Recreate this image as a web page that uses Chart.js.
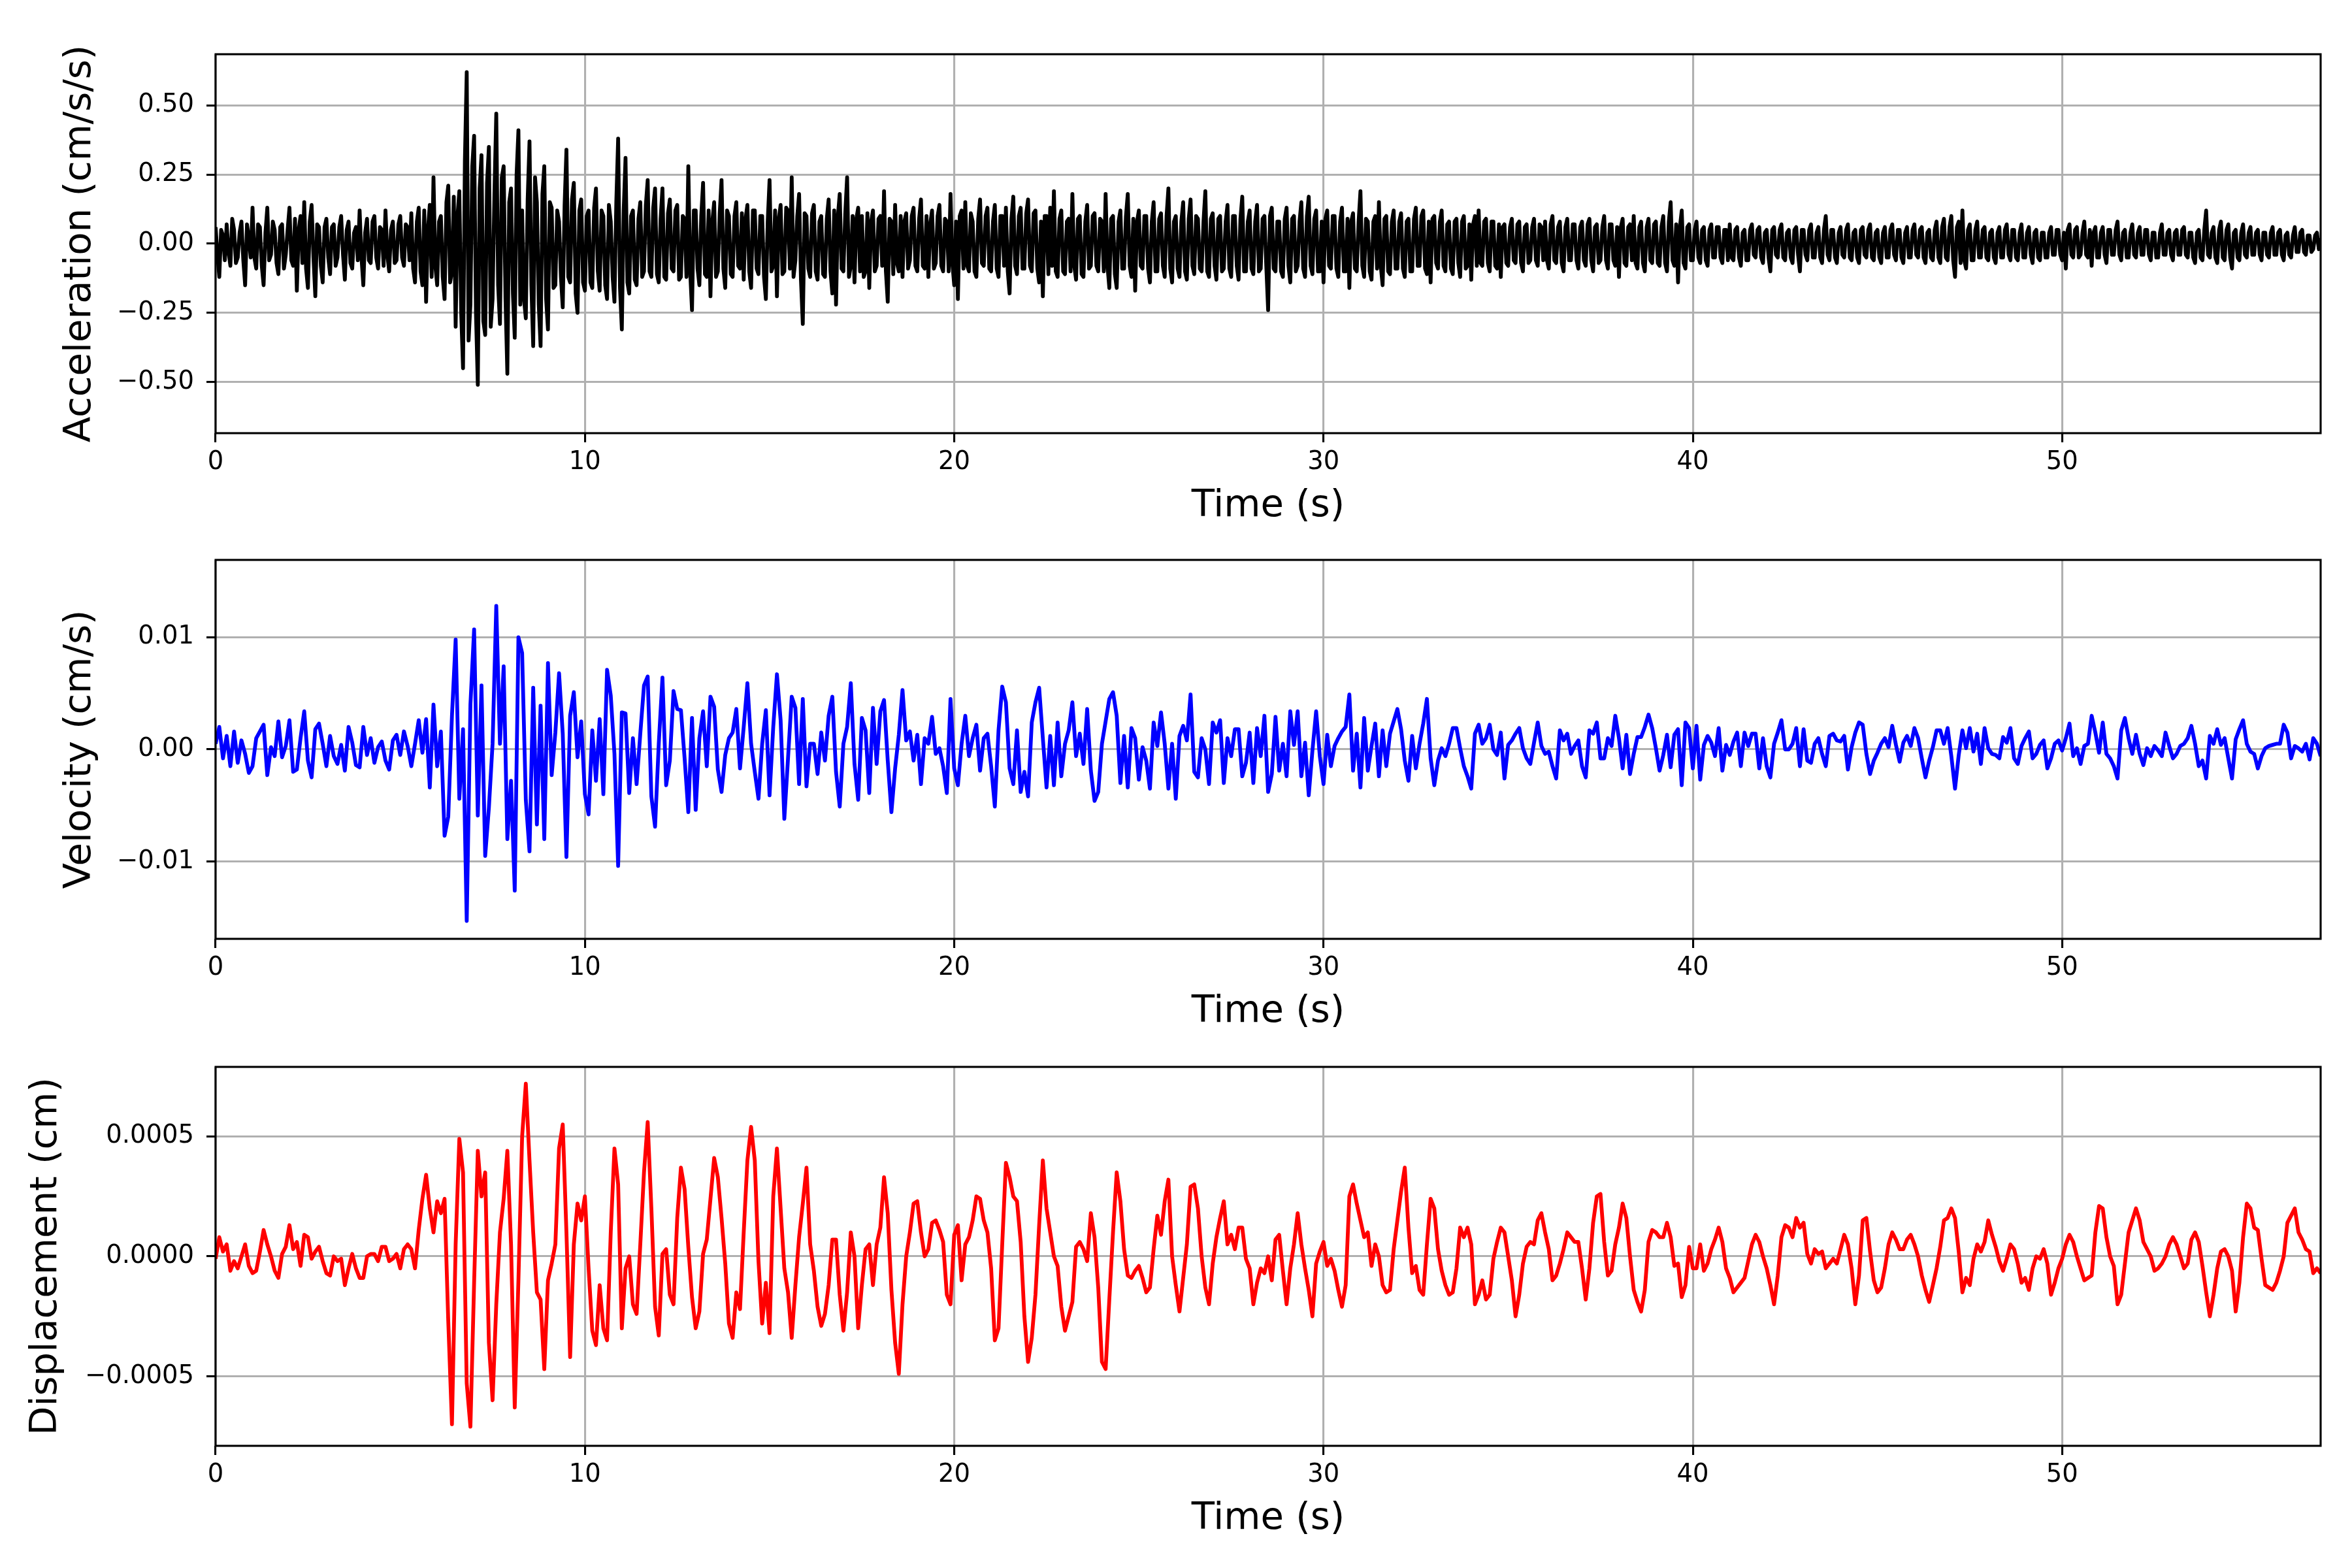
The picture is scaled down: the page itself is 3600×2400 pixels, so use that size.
<!DOCTYPE html>
<html><head><meta charset="utf-8">
<script src="https://cdn.jsdelivr.net/npm/chart.js@4.4.1/dist/chart.umd.min.js"></script>
<style>
html,body{margin:0;padding:0;background:#fff;}
body{width:3600px;height:2400px;position:relative;overflow:hidden;}
canvas{position:absolute;left:0;}
</style></head><body>
<canvas id="accChart" width="3600" height="760" style="top:63px;width:3600px;height:760px"></canvas>
<canvas id="velChart" width="3600" height="760" style="top:837px;width:3600px;height:760px"></canvas>
<canvas id="dispChart" width="3600" height="760" style="top:1613px;width:3600px;height:760px"></canvas>
<script>
// sampling grids of the traces (seconds)
const sampleStart = 0;
const accStep = 0.05;
const velStep = 0.1;
const dispStep = 0.1;
const timeMax = 57.0;

const xTickValues = [0, 10, 20, 30, 40, 50];
const xTickLabels = ['0', '10', '20', '30', '40', '50'];
const xTitle = 'Time (s)';

const accTickValues = [-0.5, -0.25, 0, 0.25, 0.5];
const accTickLabels = ['\u22120.50', '\u22120.25', '0.00', '0.25', '0.50'];
const velTickValues = [-0.01, 0, 0.01];
const velTickLabels = ['\u22120.01', '0.00', '0.01'];
const dispTickValues = [-0.0005, 0, 0.0005];
const dispTickLabels = ['\u22120.0005', '0.0000', '0.0005'];

const accTitle = 'Acceleration (cm/s/s)';
const velTitle = 'Velocity (cm/s)';
const dispTitle = 'Displacement (cm)';

// Acceleration (cm/s/s), one value every 0.05 s from 0 to 57 s (one row = 1 s)
const acceleration = [
0.06,-0.04,-0.12,0.05,0.03,-0.06,0.07,-0.03,-0.08,0.09,0.05,-0.07,-0.05,0.04,0.08,-0.06,-0.15,0.07,0.02,-0.05,
0.13,-0.05,-0.09,0.07,0.06,-0.08,-0.15,0.04,0.13,-0.06,-0.04,0.08,0.05,-0.07,-0.11,0.06,0.07,-0.09,-0.04,0.05,
0.13,-0.06,-0.08,0.09,-0.17,0.05,0.10,-0.07,0.15,-0.09,-0.16,0.08,0.14,-0.05,-0.19,0.07,0.06,-0.08,-0.14,0.06,
0.09,-0.05,-0.11,0.06,0.07,-0.08,-0.05,0.06,0.10,-0.04,-0.13,0.05,0.08,-0.07,-0.09,0.04,0.06,-0.06,0.12,-0.05,
-0.15,0.04,0.09,-0.06,-0.07,0.08,0.10,-0.05,-0.09,0.06,0.05,-0.08,0.12,-0.04,-0.10,0.05,0.08,-0.07,-0.06,0.07,
0.10,-0.05,-0.08,0.07,0.06,-0.06,0.11,-0.09,-0.14,0.08,0.13,-0.10,-0.15,0.12,-0.21,0.05,0.14,-0.12,0.24,-0.08,
-0.15,0.08,0.10,-0.12,-0.20,0.15,0.21,-0.14,-0.10,0.17,-0.30,0.10,0.19,-0.25,-0.45,0.30,0.62,-0.35,-0.22,0.28,
0.39,-0.25,-0.51,0.20,0.32,-0.28,-0.33,0.22,0.35,-0.30,-0.20,0.18,0.47,-0.15,-0.29,0.24,0.28,-0.20,-0.47,0.15,
0.20,-0.18,-0.34,0.25,0.41,-0.22,0.12,-0.20,-0.27,0.16,0.37,-0.15,-0.37,0.24,0.15,-0.22,-0.37,0.18,0.28,-0.20,
-0.31,0.15,0.13,-0.16,-0.15,0.12,0.08,-0.12,-0.23,0.14,0.34,-0.12,-0.14,0.16,0.22,-0.18,-0.25,0.12,0.16,-0.14,
-0.17,0.10,0.12,-0.14,-0.16,0.13,0.20,-0.10,-0.17,0.12,0.10,-0.15,-0.20,0.14,0.08,-0.12,-0.21,0.15,0.38,-0.16,
-0.31,0.12,0.31,-0.14,-0.18,0.10,0.12,-0.13,-0.15,0.09,0.15,-0.12,-0.10,0.14,0.23,-0.10,-0.12,0.13,0.20,-0.11,
-0.14,0.09,0.20,-0.12,-0.13,0.11,0.16,-0.09,-0.10,0.12,0.14,-0.13,-0.12,0.10,0.09,-0.12,0.28,-0.10,-0.24,0.12,
0.12,-0.09,-0.15,0.10,0.22,-0.11,-0.12,0.12,-0.19,0.08,0.15,-0.12,-0.10,0.11,0.23,-0.09,-0.16,0.12,0.10,-0.11,
-0.12,0.10,0.15,-0.08,-0.09,0.11,-0.13,0.09,0.14,-0.10,-0.16,0.12,0.12,-0.09,-0.11,0.10,0.10,-0.12,-0.20,0.08,
0.23,-0.10,-0.08,0.12,-0.19,0.09,0.14,-0.11,-0.10,0.13,0.12,-0.09,0.24,-0.12,-0.06,0.10,0.18,-0.13,-0.29,0.11,
0.10,-0.09,-0.12,0.11,0.14,-0.10,-0.13,0.08,0.10,-0.11,-0.12,0.09,0.16,-0.10,-0.18,0.12,-0.22,0.10,0.18,-0.09,
-0.10,0.11,0.24,-0.12,-0.08,0.10,-0.14,0.09,0.13,-0.10,0.10,-0.12,-0.10,0.11,-0.16,0.08,0.12,-0.10,-0.08,0.09,
0.10,-0.08,0.19,-0.10,-0.21,0.09,0.08,-0.11,0.14,-0.07,-0.10,0.10,-0.12,0.08,0.11,-0.09,-0.06,0.10,0.13,-0.08,
-0.10,0.09,0.16,-0.08,-0.09,0.10,-0.12,0.07,0.12,-0.09,-0.07,0.10,0.14,-0.08,-0.10,0.09,0.08,-0.10,0.18,-0.07,
-0.15,0.08,-0.20,0.10,0.12,-0.09,0.15,-0.08,-0.10,0.11,0.08,-0.10,-0.12,0.09,0.16,-0.07,-0.08,0.10,0.13,-0.09,
-0.10,0.08,0.14,-0.09,-0.12,0.10,0.10,-0.08,0.13,-0.10,-0.18,0.09,0.17,-0.08,-0.11,0.10,0.13,-0.09,-0.09,0.11,
0.16,-0.08,-0.10,0.11,0.12,-0.09,-0.14,0.08,-0.19,0.10,0.10,-0.11,0.13,-0.08,0.19,-0.10,-0.12,0.09,0.12,-0.10,
-0.11,0.08,0.09,-0.10,0.18,-0.08,-0.13,0.09,0.10,-0.11,-0.12,0.08,0.14,-0.09,-0.08,0.10,0.11,-0.08,-0.10,0.09,
0.08,-0.10,0.18,-0.08,-0.16,0.09,0.10,-0.11,-0.16,0.08,0.12,-0.09,-0.09,0.10,0.18,-0.08,-0.12,0.09,-0.17,0.08,
0.12,-0.08,-0.09,0.10,0.10,-0.09,-0.14,0.08,0.15,-0.10,-0.10,0.09,0.11,-0.08,-0.12,0.10,0.20,-0.09,-0.14,0.08,
0.10,-0.09,-0.12,0.08,0.15,-0.10,-0.13,0.09,0.16,-0.08,-0.11,0.10,0.09,-0.09,-0.10,0.08,0.19,-0.10,-0.12,0.09,
0.11,-0.08,-0.13,0.09,0.10,-0.10,-0.09,0.08,0.14,-0.09,-0.12,0.10,0.10,-0.08,-0.13,0.09,0.17,-0.10,-0.10,0.08,
0.12,-0.09,-0.11,0.08,0.14,-0.10,-0.09,0.09,0.10,-0.08,-0.24,0.10,0.13,-0.09,-0.10,0.08,0.08,-0.10,-0.12,0.09,
0.13,-0.08,-0.14,0.09,0.10,-0.10,-0.08,0.08,0.15,-0.09,-0.12,0.10,0.17,-0.08,-0.11,0.09,0.12,-0.10,-0.10,0.08,
-0.14,0.09,0.12,-0.08,-0.09,0.10,0.10,-0.09,-0.12,0.08,0.13,-0.10,-0.10,0.09,-0.16,0.08,0.11,-0.09,-0.10,0.08,
0.19,-0.08,-0.12,0.09,0.08,-0.10,-0.13,0.08,0.10,-0.09,0.15,-0.08,-0.15,0.09,0.10,-0.10,-0.11,0.08,0.12,-0.09,
-0.09,0.08,0.11,-0.09,-0.12,0.08,0.09,-0.10,-0.10,0.09,0.13,-0.08,-0.08,0.10,0.12,-0.09,-0.11,0.08,-0.14,0.09,
0.10,-0.07,-0.09,0.08,0.12,-0.08,-0.10,0.07,0.08,-0.09,-0.11,0.08,0.09,-0.07,-0.12,0.08,0.10,-0.09,-0.08,0.07,
-0.13,0.07,0.10,-0.08,0.12,-0.07,-0.08,0.08,0.09,-0.07,-0.10,0.08,0.08,-0.08,-0.09,0.07,-0.12,0.06,0.07,-0.07,
-0.08,0.06,0.09,-0.06,-0.07,0.07,0.08,-0.07,-0.10,0.06,0.07,-0.07,-0.06,0.06,0.09,-0.06,-0.08,0.07,0.06,-0.06,
0.08,-0.06,-0.09,0.07,0.10,-0.06,-0.07,0.06,0.08,-0.07,-0.10,0.06,0.09,-0.06,-0.06,0.07,0.07,-0.06,-0.09,0.06,
0.08,-0.06,-0.08,0.07,0.09,-0.06,-0.10,0.06,0.07,-0.07,-0.06,0.06,0.10,-0.06,-0.09,0.07,0.07,-0.06,-0.08,0.06,
-0.12,0.06,0.09,-0.07,-0.08,0.06,0.07,-0.06,0.10,-0.07,-0.09,0.06,0.08,-0.07,-0.10,0.06,0.09,-0.06,-0.07,0.07,
0.08,-0.07,-0.08,0.06,0.10,-0.07,-0.10,0.08,0.15,-0.06,-0.08,0.07,-0.14,0.06,0.12,-0.07,-0.09,0.06,0.07,-0.06,
-0.06,0.05,0.08,-0.05,-0.07,0.05,0.06,-0.06,-0.08,0.05,0.07,-0.05,-0.05,0.06,0.06,-0.05,-0.07,0.05,0.05,-0.06,
0.07,-0.05,-0.06,0.05,0.06,-0.05,-0.08,0.04,0.05,-0.06,-0.06,0.05,0.07,-0.04,-0.05,0.05,0.06,-0.05,-0.07,0.04,
0.05,-0.05,-0.10,0.05,0.06,-0.04,-0.05,0.05,0.07,-0.05,-0.06,0.04,0.05,-0.05,-0.07,0.05,0.06,-0.04,-0.10,0.05,
0.05,-0.04,-0.06,0.05,0.07,-0.05,-0.05,0.04,0.06,-0.05,-0.07,0.05,0.10,-0.04,-0.06,0.05,0.05,-0.05,-0.07,0.04,
0.06,-0.04,-0.05,0.05,0.07,-0.05,-0.06,0.04,0.05,-0.05,-0.07,0.05,0.06,-0.04,-0.05,0.05,0.07,-0.05,-0.06,0.04,
0.05,-0.05,-0.07,0.04,0.06,-0.05,-0.05,0.05,0.07,-0.04,-0.06,0.05,0.05,-0.05,-0.07,0.04,0.06,-0.05,-0.05,0.05,
0.07,-0.04,-0.05,0.05,0.06,-0.05,-0.07,0.04,0.05,-0.05,-0.06,0.05,0.08,-0.05,-0.07,0.06,0.09,-0.05,-0.06,0.06,
0.10,-0.06,-0.12,0.06,0.08,-0.07,0.12,-0.06,-0.09,0.05,0.07,-0.06,-0.06,0.05,0.08,-0.05,-0.05,0.05,0.06,-0.05,
-0.06,0.04,0.05,-0.05,-0.07,0.04,0.06,-0.05,-0.05,0.05,0.07,-0.04,-0.06,0.05,0.05,-0.05,-0.06,0.04,0.07,-0.05,
-0.05,0.04,0.06,-0.04,-0.07,0.04,0.05,-0.05,-0.06,0.04,0.04,-0.05,-0.05,0.04,0.06,-0.04,-0.04,0.05,0.05,-0.04,
-0.06,0.04,-0.09,0.05,0.07,-0.04,-0.05,0.05,0.06,-0.05,-0.04,0.04,0.08,-0.04,-0.05,0.05,-0.08,0.04,0.06,-0.05,
-0.05,0.04,0.06,-0.04,-0.07,0.05,0.05,-0.04,-0.04,0.05,0.08,-0.04,-0.06,0.04,0.05,-0.05,-0.05,0.04,0.07,-0.04,
-0.05,0.04,0.06,-0.04,-0.04,0.05,0.05,-0.04,-0.06,0.04,0.04,-0.05,-0.05,0.04,0.07,-0.04,-0.04,0.04,0.05,-0.04,
-0.06,0.04,0.05,-0.04,-0.04,0.05,0.06,-0.04,-0.05,0.04,0.04,-0.05,-0.07,0.04,0.05,-0.05,-0.06,0.05,0.12,-0.04,
-0.05,0.04,0.06,-0.05,-0.07,0.05,0.08,-0.05,-0.06,0.05,0.07,-0.05,-0.09,0.04,0.05,-0.05,-0.06,0.04,0.07,-0.04,
-0.05,0.04,0.06,-0.04,-0.04,0.04,0.05,-0.04,-0.06,0.04,0.04,-0.04,-0.05,0.04,0.06,-0.04,-0.04,0.04,0.05,-0.04,
-0.06,0.03,0.04,-0.04,-0.05,0.03,0.06,-0.03,-0.03,0.04,0.05,-0.03,-0.04,0.03,0.03,-0.03,-0.02,0.03,0.04,-0.02,
0.02
];

// Velocity (cm/s), one value every 0.1 s from 0 to 57 s
const velocity = [
0.5e-3,2.0e-3,-0.8e-3,1.2e-3,-1.5e-3,1.6e-3,-1.2e-3,0.8e-3,-0.4e-3,-2.1e-3,
-1.5e-3,1.0e-3,1.6e-3,2.2e-3,-2.3e-3,0.2e-3,-0.6e-3,2.5e-3,-0.7e-3,0.3e-3,
2.6e-3,-2.0e-3,-1.8e-3,1.0e-3,3.4e-3,-1.0e-3,-2.5e-3,1.8e-3,2.3e-3,0.5e-3,
-1.5e-3,1.2e-3,-0.6e-3,-1.3e-3,0.4e-3,-1.9e-3,2.0e-3,0.6e-3,-1.4e-3,-1.6e-3,
2.0e-3,-0.5e-3,1.0e-3,-1.2e-3,0.2e-3,0.7e-3,-1.0e-3,-1.8e-3,0.8e-3,1.3e-3,
-0.5e-3,1.6e-3,0.3e-3,-1.5e-3,0.5e-3,2.6e-3,-0.3e-3,2.7e-3,-3.4e-3,4.0e-3,
-1.5e-3,1.6e-3,-7.7e-3,-6.0e-3,3.0e-3,9.8e-3,-4.4e-3,1.8e-3,-15.3e-3,4.0e-3,
10.7e-3,-5.9e-3,5.7e-3,-9.5e-3,-5.2e-3,0.5e-3,12.8e-3,0.5e-3,7.4e-3,-8.0e-3,
-2.8e-3,-12.6e-3,10.0e-3,8.6e-3,-4.5e-3,-9.1e-3,5.5e-3,-6.7e-3,3.9e-3,-8.0e-3,
7.7e-3,-2.3e-3,1.5e-3,6.8e-3,1.4e-3,-9.6e-3,3.0e-3,5.1e-3,-0.7e-3,2.5e-3,
-4.0e-3,-5.8e-3,1.7e-3,-2.8e-3,2.7e-3,-4.0e-3,7.1e-3,4.8e-3,-0.4e-3,-10.4e-3,
3.3e-3,3.2e-3,-3.9e-3,1.0e-3,-3.1e-3,1.4e-3,5.7e-3,6.5e-3,-4.2e-3,-6.9e-3,
0.5e-3,6.4e-3,-3.2e-3,-1.0e-3,5.2e-3,3.6e-3,3.5e-3,-0.8e-3,-5.6e-3,2.8e-3,
-5.4e-3,1.0e-3,3.4e-3,-1.5e-3,4.7e-3,3.8e-3,-1.8e-3,-3.8e-3,-0.5e-3,1.0e-3,
1.5e-3,3.6e-3,-1.7e-3,2.0e-3,5.9e-3,0.5e-3,-2.0e-3,-4.4e-3,0.5e-3,3.5e-3,
-4.1e-3,2.0e-3,6.7e-3,2.6e-3,-6.2e-3,-0.8e-3,4.7e-3,3.7e-3,-3.1e-3,4.5e-3,
-3.3e-3,0.5e-3,0.5e-3,-2.2e-3,1.5e-3,-1.0e-3,3.0e-3,4.7e-3,-2.0e-3,-5.1e-3,
0.5e-3,2.0e-3,5.9e-3,-1.3e-3,-4.5e-3,2.8e-3,1.7e-3,-3.9e-3,3.7e-3,-1.3e-3,
3.4e-3,4.4e-3,-1.0e-3,-5.6e-3,-1.7e-3,1.3e-3,5.3e-3,0.8e-3,1.6e-3,-1.0e-3,
1.3e-3,-3.1e-3,1.0e-3,0.5e-3,2.9e-3,-0.4e-3,0.1e-3,-1.5e-3,-3.9e-3,4.5e-3,
-1.7e-3,-3.2e-3,0.5e-3,3.0e-3,-0.6e-3,1.0e-3,2.2e-3,-1.9e-3,1.0e-3,1.4e-3,
-1.5e-3,-5.1e-3,1.7e-3,5.6e-3,4.2e-3,-1.7e-3,-3.1e-3,1.7e-3,-3.8e-3,-2.0e-3,
-4.2e-3,2.4e-3,4.2e-3,5.5e-3,1.0e-3,-3.4e-3,1.2e-3,-3.2e-3,2.4e-3,-2.4e-3,
0.5e-3,1.7e-3,4.2e-3,-0.6e-3,1.4e-3,-1.3e-3,3.6e-3,-1.9e-3,-4.6e-3,-3.8e-3,
0.5e-3,2.5e-3,4.5e-3,5.1e-3,3.0e-3,-3.0e-3,1.2e-3,-3.4e-3,1.9e-3,1.0e-3,
-2.7e-3,0.2e-3,-1.0e-3,-3.5e-3,2.4e-3,0.3e-3,3.3e-3,0.5e-3,-3.5e-3,0.5e-3,
-4.4e-3,1.2e-3,2.1e-3,0.8e-3,4.9e-3,-2.0e-3,-2.5e-3,1.0e-3,0.0,-3.1e-3,
2.4e-3,1.5e-3,2.6e-3,-3.0e-3,1.0e-3,-0.6e-3,1.8e-3,1.8e-3,-2.4e-3,-1.2e-3,
1.5e-3,-3.0e-3,1.9e-3,-0.6e-3,3.0e-3,-3.8e-3,-2.2e-3,2.9e-3,-1.9e-3,0.5e-3,
-2.4e-3,3.4e-3,0.4e-3,3.4e-3,-2.4e-3,0.6e-3,-4.1e-3,-0.1e-3,3.4e-3,-0.6e-3,
-3.1e-3,1.3e-3,-1.5e-3,0.3e-3,1.0e-3,1.6e-3,2.0e-3,4.9e-3,-1.9e-3,1.4e-3,
-3.4e-3,2.8e-3,-1.9e-3,0.3e-3,2.3e-3,-2.4e-3,1.7e-3,-1.5e-3,1.4e-3,2.5e-3,
3.6e-3,1.8e-3,-1.0e-3,-2.8e-3,1.2e-3,-1.7e-3,0.5e-3,2.3e-3,4.5e-3,-0.8e-3,
-3.2e-3,-1.0e-3,0.1e-3,-0.6e-3,0.5e-3,1.9e-3,1.9e-3,0.1e-3,-1.5e-3,-2.4e-3,
-3.5e-3,1.4e-3,2.2e-3,0.5e-3,1.0e-3,2.2e-3,0.0,-0.5e-3,1.5e-3,-2.6e-3,
0.4e-3,0.8e-3,1.4e-3,1.9e-3,0.1e-3,-0.8e-3,-1.3e-3,0.6e-3,2.4e-3,0.3e-3,
-0.4e-3,-0.2e-3,-1.5e-3,-2.6e-3,1.7e-3,0.8e-3,1.4e-3,-0.4e-3,0.3e-3,0.8e-3,
-1.5e-3,-2.5e-3,1.7e-3,1.4e-3,2.4e-3,-0.8e-3,-0.8e-3,1.0e-3,0.3e-3,3.0e-3,
1.0e-3,-1.7e-3,1.3e-3,-2.2e-3,-0.4e-3,1.1e-3,1.1e-3,2.0e-3,3.1e-3,1.9e-3,
0.1e-3,-1.9e-3,-0.5e-3,1.3e-3,-1.6e-3,1.3e-3,1.8e-3,-3.2e-3,2.4e-3,1.9e-3,
-1.7e-3,2.1e-3,-2.7e-3,0.4e-3,1.2e-3,0.6e-3,-0.6e-3,1.9e-3,-1.9e-3,0.4e-3,
-0.5e-3,0.7e-3,1.5e-3,-1.5e-3,1.5e-3,0.3e-3,1.4e-3,1.4e-3,-1.7e-3,1.0e-3,
-1.5e-3,-2.5e-3,0.5e-3,1.5e-3,2.6e-3,0.0,0.0,0.5e-3,1.9e-3,-1.5e-3,
1.8e-3,-1.0e-3,-1.2e-3,0.5e-3,1.0e-3,-0.4e-3,-1.5e-3,1.2e-3,1.4e-3,0.8e-3,
0.7e-3,1.2e-3,-1.8e-3,0.2e-3,1.5e-3,2.4e-3,2.2e-3,-0.4e-3,-2.2e-3,-1.0e-3,
-0.3e-3,0.5e-3,1.0e-3,0.2e-3,2.1e-3,0.4e-3,-1.1e-3,0.6e-3,1.2e-3,0.3e-3,
1.9e-3,1.0e-3,-0.8e-3,-2.5e-3,-1.0e-3,0.2e-3,1.7e-3,1.7e-3,0.5e-3,1.9e-3,
-0.6e-3,-3.5e-3,-0.5e-3,1.7e-3,0.1e-3,1.9e-3,-0.2e-3,1.4e-3,-1.3e-3,1.9e-3,
0.1e-3,-0.4e-3,-0.5e-3,-0.8e-3,1.1e-3,0.6e-3,1.9e-3,-0.8e-3,-1.3e-3,0.3e-3,
1.0e-3,1.6e-3,-0.8e-3,-0.4e-3,0.4e-3,0.8e-3,-1.7e-3,-0.8e-3,0.5e-3,0.8e-3,
-0.1e-3,1.0e-3,2.3e-3,-0.6e-3,0.1e-3,-1.3e-3,0.3e-3,0.5e-3,3.0e-3,1.5e-3,
-0.3e-3,2.4e-3,-0.4e-3,-0.8e-3,-1.5e-3,-2.6e-3,1.7e-3,2.8e-3,1.0e-3,-0.4e-3,
1.3e-3,-0.4e-3,-1.4e-3,0.1e-3,-0.6e-3,0.3e-3,-0.1e-3,-0.6e-3,1.5e-3,0.3e-3,
-0.8e-3,-0.4e-3,0.3e-3,0.5e-3,1.0e-3,2.1e-3,0.5e-3,-1.5e-3,-1.0e-3,-2.6e-3,
1.2e-3,0.5e-3,1.8e-3,0.4e-3,1.0e-3,-0.8e-3,-2.6e-3,0.9e-3,1.8e-3,2.6e-3,
0.5e-3,-0.2e-3,-0.4e-3,-1.7e-3,-0.6e-3,0.1e-3,0.3e-3,0.4e-3,0.5e-3,0.5e-3,
2.2e-3,1.5e-3,-0.8e-3,0.3e-3,0.1e-3,-0.2e-3,0.5e-3,-0.9e-3,1.0e-3,0.5e-3,
-0.6e-3
];

// Displacement (cm), one value every 0.1 s from 0 to 57 s
const displacement = [
-0.1e-4,0.8e-4,0.2e-4,0.5e-4,-0.6e-4,-0.2e-4,-0.5e-4,0.0,0.5e-4,-0.4e-4,
-0.7e-4,-0.6e-4,0.2e-4,1.1e-4,0.5e-4,0.0,-0.6e-4,-0.9e-4,0.1e-4,0.4e-4,
1.3e-4,0.3e-4,0.6e-4,-0.4e-4,0.9e-4,0.8e-4,-0.1e-4,0.2e-4,0.4e-4,-0.2e-4,
-0.7e-4,-0.8e-4,0.0,-0.2e-4,-0.1e-4,-1.2e-4,-0.5e-4,0.1e-4,-0.5e-4,-0.9e-4,
-0.9e-4,0.0,0.1e-4,0.1e-4,-0.2e-4,0.4e-4,0.4e-4,-0.2e-4,-0.1e-4,0.1e-4,
-0.5e-4,0.3e-4,0.5e-4,0.3e-4,-0.5e-4,1.1e-4,2.4e-4,3.4e-4,2.0e-4,1.0e-4,
2.3e-4,1.8e-4,2.4e-4,-2.7e-4,-7.0e-4,0.5e-4,4.9e-4,3.5e-4,-5.3e-4,-7.1e-4,
-1.1e-4,4.4e-4,2.5e-4,3.5e-4,-3.6e-4,-6.0e-4,-2.0e-4,1.0e-4,2.4e-4,4.4e-4,
0.5e-4,-6.3e-4,-1.0e-4,5.0e-4,7.2e-4,4.0e-4,1.0e-4,-1.5e-4,-1.8e-4,-4.7e-4,
-1.0e-4,-0.3e-4,0.5e-4,4.5e-4,5.5e-4,1.0e-4,-4.2e-4,0.5e-4,2.2e-4,1.5e-4,
2.5e-4,-0.5e-4,-3.1e-4,-3.7e-4,-1.2e-4,-3.0e-4,-3.5e-4,1.0e-4,4.5e-4,3.0e-4,
-3.0e-4,-0.5e-4,0.0,-2.0e-4,-2.4e-4,0.5e-4,3.5e-4,5.6e-4,2.0e-4,-2.1e-4,
-3.3e-4,0.1e-4,0.3e-4,-1.6e-4,-2.0e-4,1.6e-4,3.7e-4,2.8e-4,0.4e-4,-1.7e-4,
-3.0e-4,-2.3e-4,0.1e-4,0.7e-4,2.4e-4,4.1e-4,3.3e-4,1.6e-4,-0.3e-4,-2.8e-4,
-3.4e-4,-1.5e-4,-2.2e-4,1.0e-4,4.0e-4,5.4e-4,4.0e-4,-0.2e-4,-2.8e-4,-1.1e-4,
-3.2e-4,2.5e-4,4.5e-4,2.0e-4,-0.5e-4,-1.5e-4,-3.4e-4,-1.2e-4,0.8e-4,2.2e-4,
3.7e-4,0.5e-4,-0.6e-4,-2.1e-4,-2.9e-4,-2.4e-4,-1.2e-4,0.7e-4,0.7e-4,-1.6e-4,
-3.1e-4,-1.5e-4,1.0e-4,0.0,-3.0e-4,-1.2e-4,0.3e-4,0.5e-4,-1.2e-4,0.5e-4,
1.2e-4,3.3e-4,1.8e-4,-1.4e-4,-3.6e-4,-4.9e-4,-2.0e-4,0.0,1.0e-4,2.2e-4,
2.3e-4,1.0e-4,0.0,0.3e-4,1.4e-4,1.5e-4,1.1e-4,0.6e-4,-1.6e-4,-2.0e-4,
0.9e-4,1.3e-4,-1.0e-4,0.5e-4,0.8e-4,1.5e-4,2.5e-4,2.4e-4,1.5e-4,1.0e-4,
-0.5e-4,-3.5e-4,-3.0e-4,0.5e-4,3.9e-4,3.3e-4,2.5e-4,2.3e-4,0.6e-4,-2.5e-4,
-4.4e-4,-3.4e-4,-1.6e-4,1.3e-4,4.0e-4,2.0e-4,1.0e-4,0.0,-0.4e-4,-2.1e-4,
-3.1e-4,-2.5e-4,-1.9e-4,0.4e-4,0.6e-4,0.3e-4,-0.2e-4,1.8e-4,0.8e-4,-1.3e-4,
-4.4e-4,-4.7e-4,-1.8e-4,1.0e-4,3.5e-4,2.3e-4,0.3e-4,-0.8e-4,-0.9e-4,-0.6e-4,
-0.4e-4,-0.9e-4,-1.5e-4,-1.3e-4,0.3e-4,1.7e-4,0.9e-4,2.3e-4,3.2e-4,0.0,
-1.2e-4,-2.3e-4,-0.9e-4,0.5e-4,2.9e-4,3.0e-4,2.0e-4,0.0,-1.3e-4,-2.0e-4,
-0.3e-4,0.8e-4,1.6e-4,2.3e-4,0.5e-4,0.9e-4,0.3e-4,1.2e-4,1.2e-4,-0.1e-4,
-0.5e-4,-2.0e-4,-1.1e-4,-0.5e-4,-0.7e-4,0.0,-1.0e-4,0.7e-4,0.9e-4,-0.6e-4,
-2.0e-4,-0.5e-4,0.5e-4,1.8e-4,0.5e-4,-0.5e-4,-1.4e-4,-2.5e-4,-0.3e-4,0.2e-4,
0.6e-4,-0.4e-4,-0.1e-4,-0.6e-4,-1.4e-4,-2.1e-4,-1.2e-4,2.5e-4,3.0e-4,2.2e-4,
1.5e-4,0.8e-4,1.0e-4,-0.4e-4,0.5e-4,0.0,-1.2e-4,-1.5e-4,-1.4e-4,0.3e-4,
1.5e-4,2.7e-4,3.7e-4,1.2e-4,-0.7e-4,-0.4e-4,-1.4e-4,-1.6e-4,0.5e-4,2.4e-4,
2.0e-4,0.3e-4,-0.6e-4,-1.2e-4,-1.6e-4,-1.5e-4,-0.5e-4,1.2e-4,0.8e-4,1.2e-4,
0.5e-4,-2.0e-4,-1.6e-4,-1.0e-4,-1.8e-4,-1.6e-4,-0.1e-4,0.6e-4,1.2e-4,1.0e-4,
0.0,-1.0e-4,-2.5e-4,-1.6e-4,-0.3e-4,0.4e-4,0.6e-4,0.5e-4,1.5e-4,1.8e-4,
1.0e-4,0.3e-4,-1.0e-4,-0.8e-4,-0.3e-4,0.3e-4,1.0e-4,0.8e-4,0.6e-4,0.6e-4,
-0.5e-4,-1.8e-4,-0.5e-4,1.4e-4,2.5e-4,2.6e-4,0.6e-4,-0.8e-4,-0.6e-4,0.5e-4,
1.2e-4,2.2e-4,1.6e-4,0.0,-1.4e-4,-1.9e-4,-2.3e-4,-1.4e-4,0.6e-4,1.1e-4,
1.0e-4,0.8e-4,0.8e-4,1.4e-4,0.8e-4,-0.4e-4,-0.3e-4,-1.7e-4,-1.2e-4,0.4e-4,
-0.5e-4,-0.5e-4,0.5e-4,-0.6e-4,-0.3e-4,0.3e-4,0.7e-4,1.2e-4,0.6e-4,-0.5e-4,
-0.9e-4,-1.5e-4,-1.3e-4,-1.1e-4,-0.9e-4,-0.2e-4,0.5e-4,0.9e-4,0.6e-4,0.0,
-0.5e-4,-1.2e-4,-2.0e-4,-0.8e-4,0.8e-4,1.3e-4,1.2e-4,0.8e-4,1.6e-4,1.2e-4,
1.4e-4,0.1e-4,-0.3e-4,0.3e-4,0.1e-4,0.2e-4,-0.5e-4,-0.3e-4,-0.1e-4,-0.3e-4,
0.3e-4,0.9e-4,0.5e-4,-0.5e-4,-2.0e-4,-0.8e-4,1.5e-4,1.6e-4,0.2e-4,-1.0e-4,
-1.5e-4,-1.3e-4,-0.5e-4,0.5e-4,1.0e-4,0.7e-4,0.3e-4,0.3e-4,0.7e-4,0.9e-4,
0.5e-4,0.0,-0.8e-4,-1.4e-4,-1.9e-4,-1.2e-4,-0.5e-4,0.4e-4,1.5e-4,1.6e-4,
2.0e-4,1.6e-4,0.2e-4,-1.5e-4,-0.9e-4,-1.2e-4,-0.1e-4,0.5e-4,0.2e-4,0.6e-4,
1.5e-4,0.9e-4,0.4e-4,-0.2e-4,-0.6e-4,-0.1e-4,0.5e-4,0.3e-4,-0.3e-4,-1.1e-4,
-0.9e-4,-1.4e-4,-0.5e-4,0.0,-0.1e-4,0.3e-4,-0.3e-4,-1.6e-4,-1.1e-4,-0.5e-4,
-0.1e-4,0.5e-4,0.9e-4,0.6e-4,0.0,-0.5e-4,-1.0e-4,-0.9e-4,-0.8e-4,1.0e-4,
2.1e-4,2.0e-4,0.8e-4,0.0,-0.4e-4,-2.0e-4,-1.6e-4,-0.3e-4,1.0e-4,1.5e-4,
2.0e-4,1.5e-4,0.6e-4,0.3e-4,0.0,-0.6e-4,-0.5e-4,-0.3e-4,0.0,0.5e-4,
0.8e-4,0.5e-4,0.0,-0.5e-4,-0.3e-4,0.7e-4,1.0e-4,0.6e-4,-0.4e-4,-1.5e-4,
-2.5e-4,-1.6e-4,-0.5e-4,0.2e-4,0.3e-4,0.0,-0.6e-4,-2.3e-4,-1.1e-4,0.8e-4,
2.2e-4,2.0e-4,1.2e-4,1.1e-4,-0.1e-4,-1.2e-4,-1.3e-4,-1.4e-4,-1.1e-4,-0.6e-4,
0.0,1.4e-4,1.7e-4,2.0e-4,1.0e-4,0.7e-4,0.3e-4,0.2e-4,-0.7e-4,-0.5e-4,
-0.7e-4
];

const FONT_FAMILY = "'DejaVu Sans', 'Liberation Sans', sans-serif";
Chart.defaults.font.family = FONT_FAMILY;
Chart.defaults.color = '#000000';

const framePlugin = {
  id: 'frame',
  afterDatasetsDraw(chart) {
    const {ctx, chartArea: a} = chart;
    ctx.save();
    ctx.strokeStyle = '#000000';
    ctx.lineWidth = 3.1;
    ctx.strokeRect(a.left, a.top, a.right - a.left, a.bottom - a.top);
    ctx.restore();
  }
};

function makeChart(id, values, step, color, yLimit, yTicks, yLabels, yTitle, yTitlePad) {
  const points = values.map((v, i) => ({x: Math.round((sampleStart + i * step) * 1000) / 1000, y: v}));
  const gridOpts = {color: '#b0b0b0', lineWidth: 3.1, tickColor: '#000000', tickLength: 14, tickWidth: 3.1, drawOnChartArea: true};
  return new Chart(document.getElementById(id), {
    type: 'line',
    data: {datasets: [{data: points, borderColor: color, borderWidth: 5.8, pointRadius: 0,
      tension: 0, fill: false, borderJoinStyle: 'round', borderCapStyle: 'butt'}]},
    options: {
      responsive: false, animation: false, devicePixelRatio: 1, events: [],
      layout: {padding: {left: 0, right: 48, top: 20, bottom: 0}},
      plugins: {legend: {display: false}, tooltip: {enabled: false}},
      scales: {
        x: {
          type: 'linear', position: 'bottom', min: sampleStart, max: timeMax,
          afterBuildTicks: s => { s.ticks = xTickValues.map(v => ({value: v})); },
          afterFit: s => { s.height = 160; s.paddingLeft = 0; s.paddingRight = 0; },
          ticks: {callback: (v, i) => xTickLabels[i], font: {size: 38.5}, color: '#000000',
                  padding: 8, maxRotation: 0, autoSkip: false},
          grid: gridOpts,
          border: {display: false},
          title: {display: true, text: xTitle, font: {size: 57.7}, color: '#000000', padding: {top: 0, bottom: 13}}
        },
        y: {
          type: 'linear', min: -yLimit, max: yLimit,
          afterBuildTicks: s => { s.ticks = yTicks.map(v => ({value: v})); },
          afterFit: s => { s.width = 330; s.paddingTop = 0; s.paddingBottom = 0; },
          ticks: {callback: (v, i) => yLabels[i], font: {size: 38.5}, color: '#000000',
                  padding: 19, autoSkip: false},
          grid: gridOpts,
          border: {display: false},
          title: {display: true, text: yTitle, font: {size: 57.7}, color: '#000000', padding: {top: yTitlePad, bottom: 0}}
        }
      }
    },
    plugins: [framePlugin]
  });
}

makeChart('accChart', acceleration, accStep, '#000000', 0.685, accTickValues, accTickLabels, accTitle, 88);
makeChart('velChart', velocity, velStep, '#0000ff', 0.0169, velTickValues, velTickLabels, velTitle, 88);
makeChart('dispChart', displacement, dispStep, '#ff0000', 0.00079, dispTickValues, dispTickLabels, dispTitle, 36);
</script>
</body></html>
